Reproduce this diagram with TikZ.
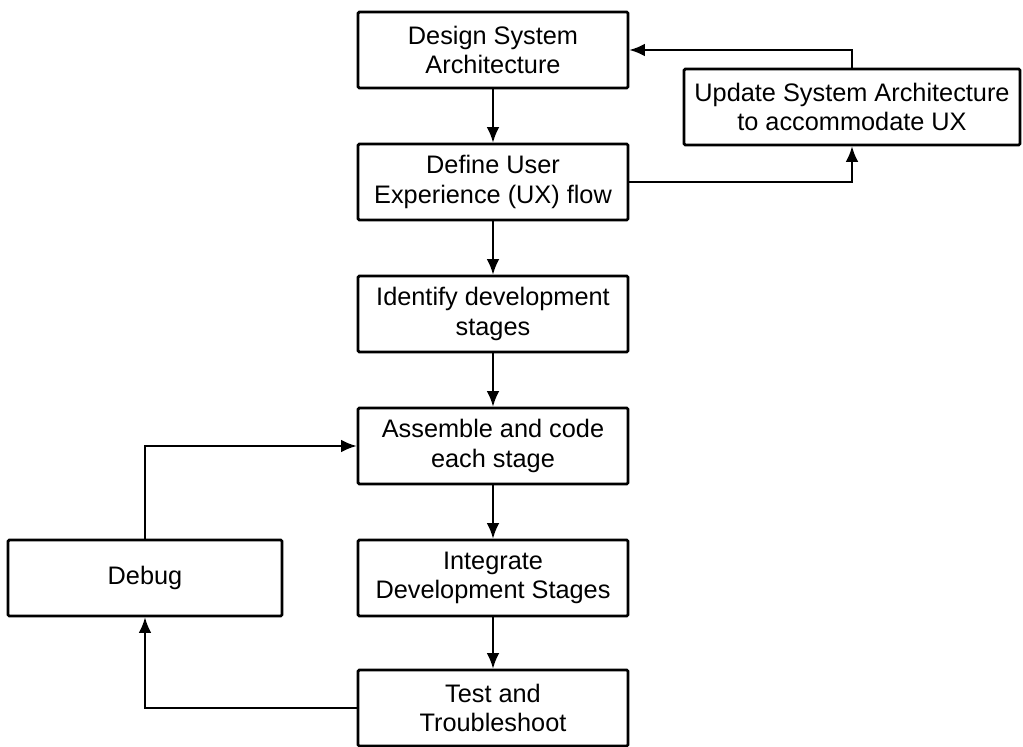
\documentclass[tikz,border=0pt]{standalone}
\usepackage{fontspec}
\setmainfont{Liberation Sans}
\usetikzlibrary{arrows.meta}

\begin{document}
\begin{tikzpicture}[x=0.025cm,y=-0.025cm,
        box/.style={draw,line width=1.9pt,rounded corners=1pt,align=center,
            minimum width=6.75cm,minimum height=1.9cm,inner sep=2pt,
            font=\fontsize{18}{21}\selectfont},
        link/.style={line width=1.4pt,-{Latex[length=11pt,width=9pt]}}]
    \useasboundingbox (0,0) rectangle (1023,747);

    % main chain
    \node[box] (design) at (493,50) {Design System\\Architecture};
    \node[box] (define) at (493,182) {Define User\\Experience (UX) flow};
    \node[box] (identify) at (493,314) {Identify development\\stages};
    \node[box] (assemble) at (493,446) {Assemble and code\\each stage};
    \node[box] (integrate) at (493,578) {Integrate\\Development Stages};
    \node[box] (test) at (493,708) {Test and\\Troubleshoot};

    % side boxes
    \node[box,minimum width=6.85cm] (debug) at (145,578) {Debug};
    \node[box,minimum width=8.4cm] (update) at (852,107) {Update System Architecture\\to accommodate UX};

    \draw[link] (design) -- (define);
    \draw[link] (define) -- (identify);
    \draw[link] (identify) -- (assemble);
    \draw[link] (assemble) -- (integrate);
    \draw[link] (integrate) -- (test);

    % loops
    \draw[link] (define.east) -| (update.south);
    \draw[link] (update.north) |- (design.east);
    \draw[link] (test.west) -| (debug.south);
    \draw[link] (debug.north) |- (assemble.west);
\end{tikzpicture}
\end{document}
